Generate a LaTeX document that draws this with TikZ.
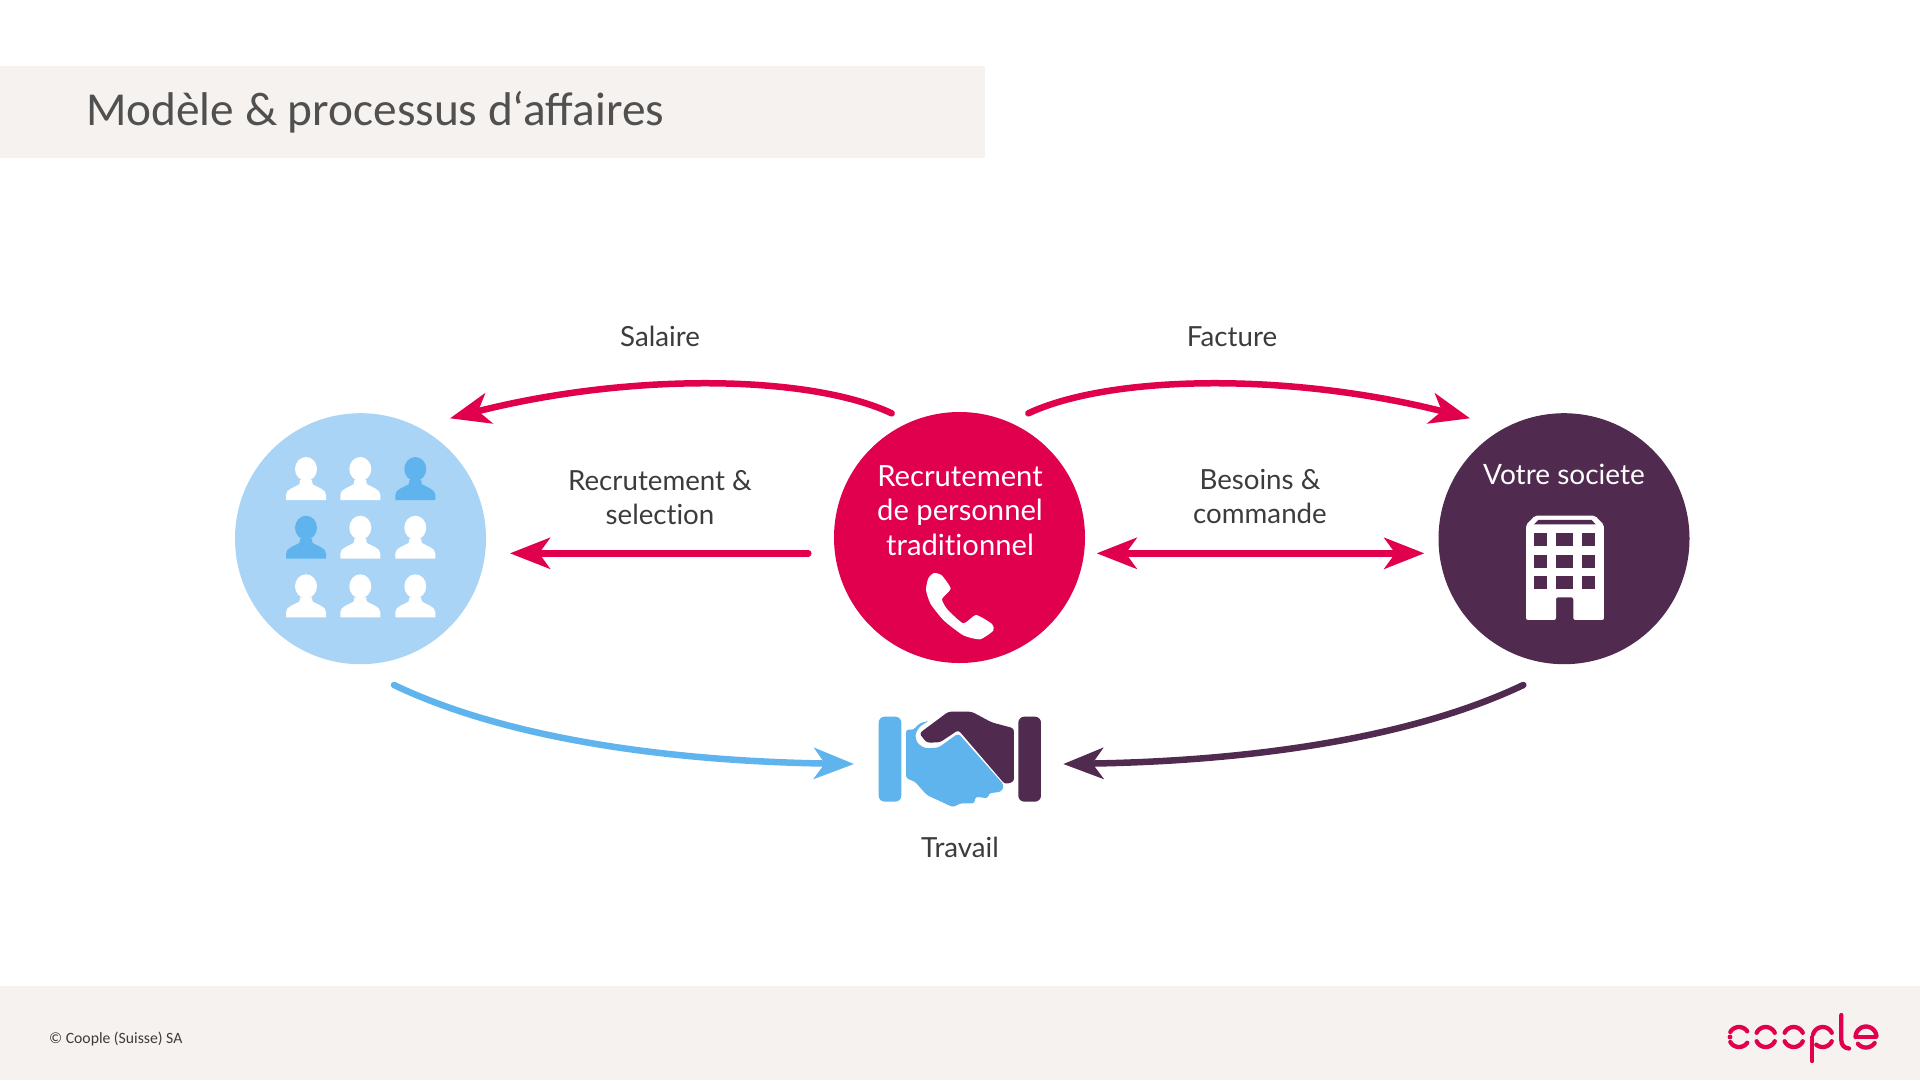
\documentclass[tikz,border=0pt]{standalone}
\usepackage{fontspec}
\setmainfont[Ligatures=NoCommon]{Lato}
\newfontfamily\carl{Carlito}
\usetikzlibrary{arrows.meta,shapes.geometric}
\definecolor{crim}{HTML}{E0004D}
\definecolor{lblue}{HTML}{A9D4F5}
\definecolor{mblue}{HTML}{60B4EE}
\definecolor{plum}{HTML}{512A50}
\definecolor{band}{HTML}{F5F2F0}
\definecolor{ink}{HTML}{3C3C3B}
\definecolor{ttl}{HTML}{505050}
\newcommand{\personat}[3]{%
  \fill[#3,shift={(#1,#2)}] (-20,0) -- (-20,-5) .. controls (-20,-8) and (-18,-10) .. (-15,-11.5)
    -- (-7,-15.5) .. controls (-6,-16.5) and (-6,-18) .. (-6,-20) -- (6,-20)
    .. controls (6,-18) and (6,-16.5) .. (7,-15.5) -- (15,-11.5)
    .. controls (18,-10) and (20,-8) .. (20,-5) -- (20,0) -- cycle;
  \fill[#3,shift={(#1,#2)}] (0,-31) ellipse [x radius=11pt,y radius=12pt];}
\newcommand{\logoarc}[5]{\draw[logostroke] plot[domain=#4:#5,samples=14] ({#1+#2*cos(\x)},{#3+#2*sin(\x)});}
\tikzset{
  disc/.style={circle,inner sep=0pt,minimum size=251pt,draw=none},
  lbl/.style={text=ink,align=center,inner sep=0pt,font=\fontsize{27.7}{34}\selectfont},
  wlbl/.style={text=white,align=center,inner sep=0pt,font=\fontsize{29.2}{34.5}\selectfont},
  wlblb/.style={text=white,align=center,inner sep=0pt,font=\fontsize{28}{34.5}\selectfont},
  flow/.style={line width=6.5pt,line cap=round},
  tipr/.style={-{Stealth[length=40pt,width=31pt,inset=11pt]}},
  tipb/.style={{Stealth[length=40pt,width=31pt,inset=11pt]}-{Stealth[length=40pt,width=31pt,inset=11pt]}},
  logostroke/.style={crim,line width=4.3pt,line cap=round},
}
\begin{document}
\begin{tikzpicture}[x=1pt,y=-1pt]
\useasboundingbox (0,0) rectangle (1920,1080);
\fill[white] (0,0) rectangle (1920,1080);
\fill[band] (0,66) rectangle (985,157.5);
\fill[band] (0,986) rectangle (1920,1080);
\node[anchor=west,inner sep=0pt,text=ttl,font=\carl\fontsize{47.3}{52}\selectfont] (title) at (86,112) {Modèle \& processus d‘affaires};
\node[anchor=west,inner sep=0pt,text=ink,font=\carl\fontsize{15.7}{18}\selectfont] (foot) at (49,1039.5) {© Coople (Suisse) SA};

% discs
\node[disc,fill=lblue] (emp) at (360.5,538.7) {};
\node[disc,fill=crim] (rec) at (959.5,537.5) {};
\node[disc,fill=plum] (soc) at (1564,538.7) {};

% people
\personat{306}{500}{white}\personat{360.3}{500}{white}\personat{415.3}{500}{mblue}
\personat{306}{558.7}{mblue}\personat{360.3}{558.7}{white}\personat{415.3}{558.7}{white}
\personat{306}{617.3}{white}\personat{360.3}{617.3}{white}\personat{415.3}{617.3}{white}

% disc texts
\node[wlbl] (rect) at (960,510.5) {Recrutement\\de personnel\\traditionnel};
\node[wlblb] (soct) at (1564,474) {Votre societe};

% phone
\begin{scope}[shift={(820,400)},x=0.3333pt,y=-0.3333pt]
\fill[white] plot[smooth cycle,tension=0.35] coordinates {(342,519) (365,526) (392,566) (366,597) (382,628) (430,670) (468,645) (516,672) (520,692) (480,718) (430,706) (372,662) (332,612) (318,570) (325,535)};
\end{scope}

% building
\begin{scope}[shift={(1430,400)},x=0.3333pt,y=-0.3333pt]
\fill[white,rounded corners=2pt] (288,375) -- (315,347) -- (495,347) -- (522,375) -- (522,660) -- (430,660) -- (430,592) -- (378,592) -- (378,660) -- (288,660) -- cycle;
\fill[plum] (312,373) -- (325,360) -- (485,360) -- (497,373) -- cycle;
\foreach \yy in {398,464,528}{
  \fill[plum] (312,\yy) rectangle (352,\yy+39);
  \fill[plum] (378,\yy) rectangle (430,\yy+39);
  \fill[plum] (456,\yy) rectangle (496,\yy+39);
}
\end{scope}

% handshake
\begin{scope}[shift={(860,690)},x=0.3333pt,y=-0.3333pt]
\fill[mblue,rounded corners=6pt] (56,80) rectangle (124,335);
\fill[plum,rounded corners=6pt] (475,80) rectangle (543,335);
\fill[plum,rounded corners=3pt] (178,130) -- (265,65) -- (335,65) -- (395,97) -- (462,115) -- (462,275) -- (435,283) -- (295,120) -- (240,157) -- (200,158) -- cycle;
\fill[mblue,rounded corners=3pt] (138,118) -- (160,120) -- (178,100) -- (208,92) -- (178,110) -- (165,135) -- (172,160) -- (195,175) -- (235,173) -- (295,130) -- (432,285) -- (425,305) -- (385,310) -- (385,325) -- (345,320) -- (345,340) -- (300,340) -- (280,352) -- (200,315) -- (165,275) -- (138,265) -- cycle;
\end{scope}

% labels
\node[lbl] (sal) at (660,336) {Salaire};
\node[lbl] (fac) at (1232,337) {Facture};
\node[lbl] (rs) at (660,498) {Recrutement \&\\selection};
\node[lbl] (bc) at (1260,496) {Besoins \&\\commande};
\node[lbl] (tra) at (960,847) {Travail};

% connector ends
\coordinate (a1) at (891.7,413.3); \coordinate (a2) at (450,418.3);
\coordinate (b1) at (1028.3,413.3); \coordinate (b2) at (1470,418.3);
\coordinate (c1) at (808.3,553.3); \coordinate (c2) at (510,553.3);
\coordinate (d1) at (1096.7,553.3); \coordinate (d2) at (1424.3,553.3);
\coordinate (e1) at (394,685); \coordinate (e2) at (854,764);
\coordinate (f1) at (1523.3,685); \coordinate (f2) at (1063.3,764);

\draw[flow,crim,tipr] (a1) .. controls (810,375) and (632,372) .. (a2);
\draw[flow,crim,tipr] (b1) .. controls (1110,375) and (1288,372) .. (b2);
\draw[flow,crim,tipr] (c1) -- (c2);
\draw[flow,crim,tipb] (d1) -- (d2);
\draw[flow,mblue,tipr] (e1) .. controls (505,738) and (665,761) .. (e2);
\draw[flow,plum,tipr] (f1) .. controls (1412,738) and (1252,761) .. (f2);

% logo
\logoarc{1739}{10}{1037}{-150}{-35}
\logoarc{1739}{10}{1037}{35}{150}
\fill[crim] (1730,1037) circle [radius=2.4pt];
\foreach \cx in {1765.7,1793.7}{
  \logoarc{\cx}{10}{1037}{-155}{-25}
  \logoarc{\cx}{10}{1037}{25}{155}
}
\logoarc{1822.7}{10}{1037}{-165}{-25}
\logoarc{1822.7}{10}{1037}{25}{130}
\draw[logostroke] (1812.3,1037) -- (1812.3,1061);
\draw[logostroke] (1841.3,1015) -- (1841.3,1040) .. controls (1841.3,1045) and (1844,1048) .. (1849,1048.5);
\logoarc{1866}{10.5}{1037}{-180}{-5}
\logoarc{1866}{10.5}{1037}{35}{140}
\draw[logostroke] (1857,1037) -- (1876,1037);
\end{tikzpicture}
\end{document}
